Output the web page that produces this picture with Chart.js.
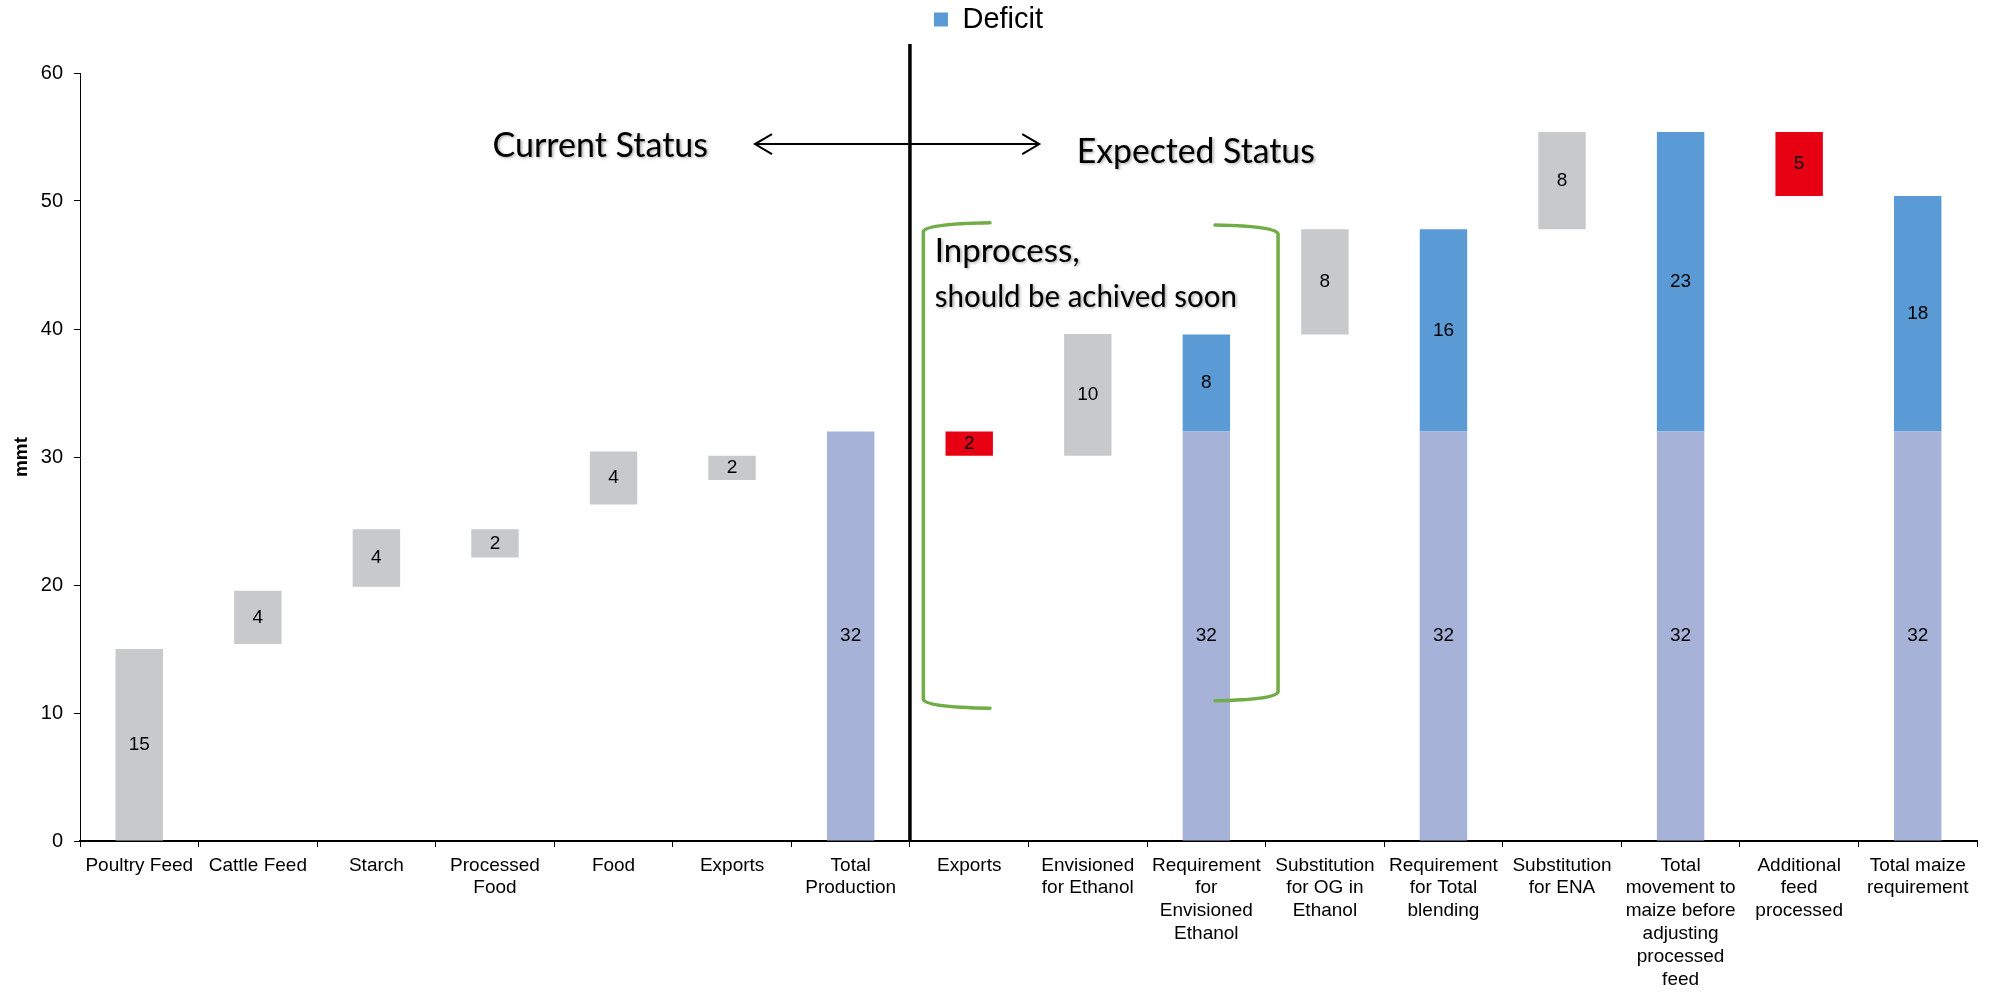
<!DOCTYPE html>
<html>
<head>
<meta charset="utf-8">
<title>Maize demand and deficit</title>
<script src="https://cdn.jsdelivr.net/npm/chart.js@4.4.1/dist/chart.umd.min.js"></script>
<style>
  html, body { margin: 0; padding: 0; background: #ffffff; }
  #wrap { width: 1993px; height: 993px; }
</style>
</head>
<body>
<div id="wrap"><canvas id="chart" width="1993" height="993"></canvas></div>
<script>
// Categories (multi-line labels where the axis wraps them)
const categories = [
  'Poultry Feed', 'Cattle Feed', 'Starch', ['Processed', 'Food'], 'Food', 'Exports',
  ['Total', 'Production'], 'Exports', ['Envisioned', 'for Ethanol'],
  ['Requirement', 'for', 'Envisioned', 'Ethanol'], ['Substitution', 'for OG in', 'Ethanol'],
  ['Requirement', 'for Total', 'blending'], ['Substitution', 'for ENA'],
  ['Total', 'movement to', 'maize before', 'adjusting', 'processed', 'feed'],
  ['Additional', 'feed', 'processed'], ['Total maize', 'requirement']
];

// Invisible floor under each floating step (mmt)
const baseLevels       = [0, 15.4, 19.87, 22.14, 26.28, 28.2, null, 30.1, 30.1, null, 39.58, null, 47.79, null, 50.39, null];
// Current total production (mmt)
const productionValues = [null, null, null, null, null, null, 32, null, null, 32, null, 32, null, 32, null, 32];
// Shortfall stacked above production (mmt)
const deficitValues    = [null, null, null, null, null, null, null, null, null, 7.58, null, 15.79, null, 23.39, null, 18.39];
// Usage / additional demand steps (mmt)
const usageValues      = [15, 4.15, 4.48, 2.21, 4.14, 1.9, null, null, 9.5, null, 8.21, null, 7.6, null, null, null];
// Reductions (mmt)
const reductionValues  = [null, null, null, null, null, null, null, 1.9, null, null, null, null, null, null, 5.0, null];

const yAxisMin = 0;
const yAxisMax = 60;
const yAxisStep = 10;

const FONT = "'Liberation Sans', Arial, sans-serif";
const NOTE_FONT = "Lato, 'Open Sans', sans-serif";

const COLORS = {
  production: '#A6B2D8',
  deficit: '#5B9BD5',
  usage: '#C8C9CB',
  reduction: '#E60012',
  bracket: '#70AD47'
};

// Reserve a fixed band at the top for the legend
const legendBand = {
  id: 'legendBand',
  afterInit(chart) {
    const legend = chart.legend;
    if (!legend) return;
    const fit = legend.fit;
    legend.fit = function () {
      fit.call(this);
      this.height = 73;
    };
  }
};

// Value labels centred in each visible segment
const segmentLabels = {
  id: 'segmentLabels',
  afterDatasetsDraw(chart) {
    const { ctx } = chart;
    ctx.save();
    ctx.font = '19px ' + FONT;
    ctx.fillStyle = '#000';
    ctx.textAlign = 'center';
    ctx.textBaseline = 'middle';
    chart.data.datasets.forEach((ds, di) => {
      if (ds.noLabels) return;
      const meta = chart.getDatasetMeta(di);
      meta.data.forEach((el, i) => {
        const v = ds.data[i];
        if (v === null || v === undefined) return;
        ctx.fillText(String(Math.round(v)), el.x, (el.y + el.base) / 2);
      });
    });
    ctx.restore();
  }
};

// Status divider, arrow, captions and bracket
const notes = {
  id: 'notes',
  afterDraw(chart) {
    const { ctx } = chart;
    const xs = chart.scales.x, ys = chart.scales.y;
    const px = v => xs.getPixelForValue(v);
    const py = v => ys.getPixelForValue(v);
    ctx.save();

    // divider between current and expected status
    ctx.strokeStyle = '#000';
    ctx.lineWidth = 3.5;
    ctx.beginPath();
    ctx.moveTo(px(6.5), py(62.27));
    ctx.lineTo(px(6.5), py(0));
    ctx.stroke();

    // double-headed arrow
    const ay = py(54.45);
    const ax1 = px(5.193), ax2 = px(7.591);
    ctx.lineWidth = 2;
    ctx.beginPath();
    ctx.moveTo(ax1, ay); ctx.lineTo(ax2, ay);
    ctx.moveTo(ax1 + 17, ay - 10); ctx.lineTo(ax1, ay); ctx.lineTo(ax1 + 17, ay + 10);
    ctx.moveTo(ax2 - 17, ay - 10); ctx.lineTo(ax2, ay); ctx.lineTo(ax2 - 17, ay + 10);
    ctx.stroke();

    // captions
    ctx.fillStyle = '#000';
    ctx.shadowColor = 'rgba(0,0,0,0.35)';
    ctx.shadowBlur = 3;
    ctx.shadowOffsetX = 1.5;
    ctx.shadowOffsetY = 1.5;
    ctx.textBaseline = 'alphabetic';

    ctx.font = '34px ' + NOTE_FONT;
    ctx.textAlign = 'right';
    ctx.fillText('Current Status', px(4.797), py(53.46), 217);

    ctx.font = '34px ' + NOTE_FONT;
    ctx.textAlign = 'left';
    ctx.fillText('Expected Status', px(7.907), py(52.99), 238);

    ctx.font = '33px ' + NOTE_FONT;
    ctx.fillText('Inprocess,', px(6.71), py(45.26), 152);
    ctx.font = '30px ' + NOTE_FONT;
    ctx.fillText('should be achived soon', px(6.71), py(41.74), 302);

    // green bracket
    ctx.shadowColor = 'transparent';
    ctx.strokeStyle = COLORS.bracket;
    ctx.lineWidth = 3.5;
    ctx.lineCap = 'round';
    ctx.lineJoin = 'round';

    let xe = px(7.175), xv = px(6.613), yt = py(48.3), yb = py(10.37);
    ctx.beginPath();
    ctx.moveTo(xe, yt);
    ctx.quadraticCurveTo(xv + 1, yt + 1, xv, yt + 9);
    ctx.lineTo(xv, yb - 9);
    ctx.quadraticCurveTo(xv + 1, yb - 1, xe, yb);
    ctx.stroke();

    xe = px(9.073); xv = px(9.605); yt = py(48.13); yb = py(10.96);
    ctx.beginPath();
    ctx.moveTo(xe, yt);
    ctx.quadraticCurveTo(xv - 1, yt + 1, xv, yt + 9);
    ctx.lineTo(xv, yb - 9);
    ctx.quadraticCurveTo(xv - 1, yb - 1, xe, yb);
    ctx.stroke();

    ctx.restore();
  }
};

new Chart(document.getElementById('chart'), {
  type: 'bar',
  data: {
    labels: categories,
    datasets: [
      { label: 'Base', data: baseLevels, backgroundColor: 'rgba(0,0,0,0)', noLabels: true },
      { label: 'Production', data: productionValues, backgroundColor: COLORS.production },
      { label: 'Deficit', data: deficitValues, backgroundColor: COLORS.deficit },
      { label: 'Usage', data: usageValues, backgroundColor: COLORS.usage },
      { label: 'Reduction', data: reductionValues, backgroundColor: COLORS.reduction }
    ]
  },
  options: {
    responsive: false,
    animation: false,
    devicePixelRatio: 1,
    layout: { padding: { top: 0, right: 16, bottom: 0, left: 0 } },
    datasets: {
      bar: { barPercentage: 0.4, categoryPercentage: 1.0, borderWidth: 0 }
    },
    plugins: {
      legend: {
        position: 'top',
        labels: {
          filter: item => item.text === 'Deficit',
          boxWidth: 14,
          boxHeight: 14,
          padding: 5,
          color: '#000',
          font: { family: FONT, size: 29 }
        }
      },
      tooltip: { enabled: false }
    },
    scales: {
      x: {
        stacked: true,
        afterFit(scale) { scale.height = 152; },
        border: { color: '#000', width: 2 },
        grid: {
          offset: true,
          drawOnChartArea: false,
          drawTicks: true,
          tickLength: 6,
          color: '#000'
        },
        ticks: {
          autoSkip: false,
          maxRotation: 0,
          minRotation: 0,
          padding: 7,
          color: '#000',
          font: { family: FONT, size: 19, lineHeight: 1.2 }
        }
      },
      y: {
        stacked: true,
        min: yAxisMin,
        max: yAxisMax,
        afterFit(scale) { scale.width = 80; },
        border: { color: '#000', width: 1 },
        grid: {
          drawOnChartArea: false,
          drawTicks: true,
          tickLength: 6,
          color: '#000'
        },
        ticks: {
          stepSize: yAxisStep,
          padding: 11,
          color: '#000',
          font: { family: FONT, size: 20 }
        },
        title: {
          display: true,
          text: 'mmt',
          color: '#000',
          padding: { top: 10, bottom: 0 },
          font: { family: FONT, size: 19, weight: 'bold', lineHeight: 1.2 }
        }
      }
    }
  },
  plugins: [legendBand, segmentLabels, notes]
});
</script>
</body>
</html>
